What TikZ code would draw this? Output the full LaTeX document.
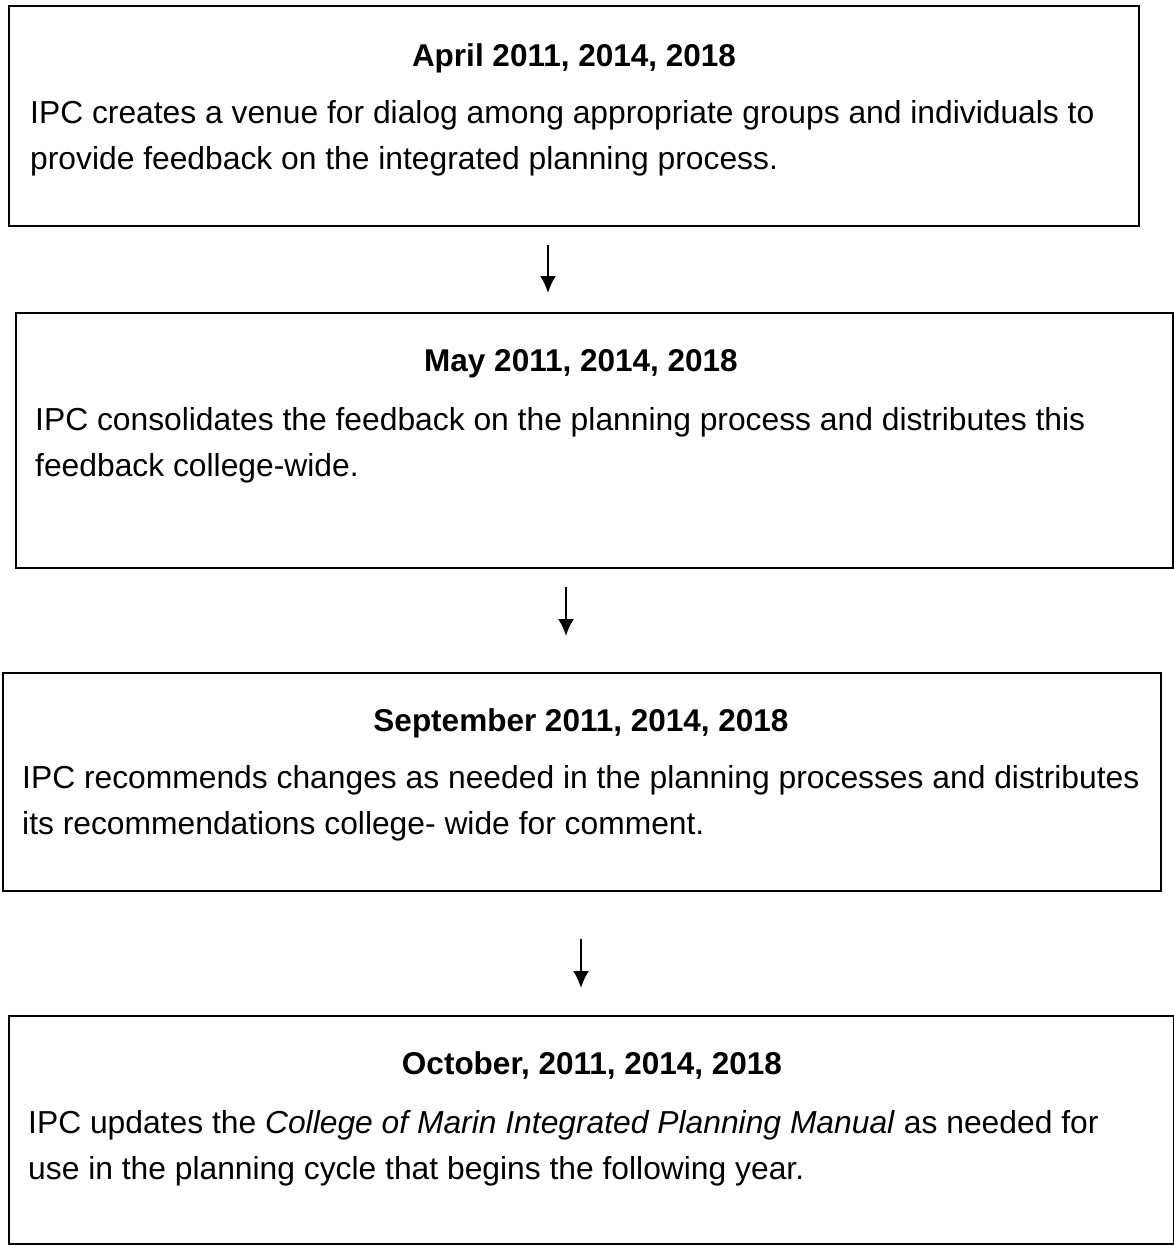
\documentclass[tikz,border=0pt]{standalone}
\usepackage{fontspec}
\setmainfont{Liberation Sans}
\usepackage{tikz}
\usetikzlibrary{positioning,calc,arrows.meta}

\begin{document}
\begin{tikzpicture}[x=1pt,y=-1pt]

    % boxes of the review cycle, drawn at the sizes of the scanned page
    \tikzstyle{panel}=[draw,line width=1.6pt,rectangle,anchor=north west,inner sep=0pt]
    \tikzstyle{title}=[font=\fontsize{31.5}{36}\selectfont\bfseries,inner sep=0pt]
    \tikzstyle{body}=[font=\fontsize{31.8}{46}\selectfont,align=left,anchor=north west,inner sep=0pt]
    \tikzstyle{flow}=[line width=2.2pt,-{Latex[length=17pt,width=16pt]}]

    \useasboundingbox (0,0) rectangle (1173,1247);

    \node [panel,minimum width=1130,minimum height=220] (april) at (8,5) {};
    \node [panel,minimum width=1157,minimum height=255] (may) at (15,312) {};
    \node [panel,minimum width=1158,minimum height=218] (september) at (2,672) {};
    \node [panel,minimum width=1165,minimum height=228] (october) at (8,1015) {};

    \node [title] (aprilhead) at (574,58) {April 2011, 2014, 2018};
    \node [body] (aprilbody) at (30,100) {IPC creates a venue for dialog among appropriate groups and individuals to\\provide feedback on the integrated planning process.};

    \node [title] (mayhead) at (581,364) {May 2011, 2014, 2018};
    \node [body] (maybody) at (35,407) {IPC consolidates the feedback on the planning process and distributes this\\feedback college-wide.};

    \node [title] (septemberhead) at (581,723) {September 2011, 2014, 2018};
    \node [body] (septemberbody) at (22,765) {IPC recommends changes as needed in the planning processes and distributes\\its recommendations college- wide for comment.};

    \node [title] (octoberhead) at (592,1066) {October, 2011, 2014, 2018};
    \node [body] (octoberbody) at (28,1110) {IPC updates the \textit{College of Marin Integrated Planning Manual} as needed for\\use in the planning cycle that begins the following year.};

    % arrows between the boxes
    \coordinate (down1) at (548,0);
    \coordinate (down2) at (566,0);
    \coordinate (down3) at (581,0);
    \draw [flow,shorten <=18pt,shorten >=19pt] (april.south -| down1) -- (may.north -| down1);
    \draw [flow,shorten <=18pt,shorten >=36pt] (may.south -| down2) -- (september.north -| down2);
    \draw [flow,shorten <=47pt,shorten >=27pt] (september.south -| down3) -- (october.north -| down3);

\end{tikzpicture}
\end{document}
